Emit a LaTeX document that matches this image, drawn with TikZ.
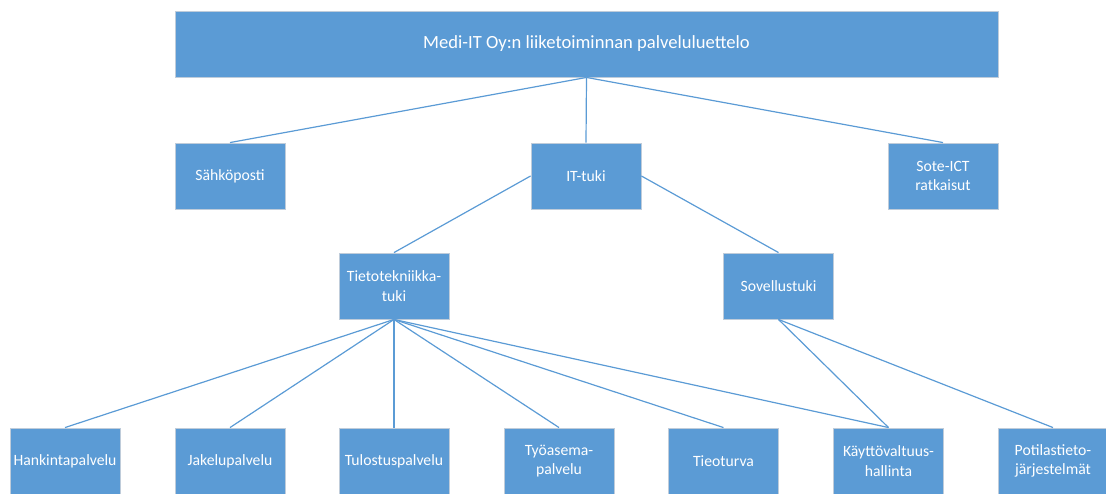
\documentclass[tikz,border=0pt]{standalone}
\usepackage{fontspec}
\setmainfont{Carlito}
\definecolor{boxblue}{HTML}{5B9BD5}
\definecolor{boxedge}{HTML}{BFCCDA}
\begin{document}
\begin{tikzpicture}[x=1pt,y=-1pt,
  box/.style={draw=boxedge, line width=0.9pt, fill=boxblue, text=white,
    minimum width=110pt, minimum height=66pt, inner sep=0pt, align=center,
    font=\fontsize{15.7}{19.7}\selectfont},
  link/.style={draw=boxblue, line width=1.2pt}]
\useasboundingbox (0,0) rectangle (1106,493);
% nodes
\node[box, minimum width=823pt, font=\fontsize{18.6}{22}\selectfont] (root) at (586.5,44) {Medi-IT Oy:n liiketoiminnan palveluluettelo};
\node[box] (sah) at (230,176) {Sähköposti};
\node[box] (it) at (586,176) {IT-tuki};
\node[box] (sote) at (943,176) {Sote-ICT\\ratkaisut};
\node[box] (tt) at (394,286) {Tietotekniikka-\\tuki};
\node[box] (sov) at (778.5,286) {Sovellustuki};
\node[box] (han) at (65,461) {Hankintapalvelu};
\node[box] (jak) at (230,461) {Jakelupalvelu};
\node[box] (tul) at (394,461) {Tulostuspalvelu};
\node[box] (tyo) at (559,461) {Työasema-\\palvelu};
\node[box] (tie) at (723.5,461) {Tieoturva};
\node[box] (kay) at (888.5,461) {Käyttövaltuus-\\hallinta};
\node[box] (pot) at (1053,461) {Potilastieto-\\järjestelmät};
% connectors
\draw[link] (root.south) -- (sah.north);
\draw[link] (root.south) -- (it.north);
\draw[link] (root.south) -- (sote.north);
\draw[link] (it.west) -- (tt.north);
\draw[link] (it.east) -- (sov.north);
\foreach \t in {han,jak,tul,tyo,tie,kay}
  \draw[link] (tt.south) -- (\t.north);
\draw[link] (sov.south) -- (kay.north);
\draw[link] (sov.south) -- (pot.north);
\end{tikzpicture}
\end{document}
